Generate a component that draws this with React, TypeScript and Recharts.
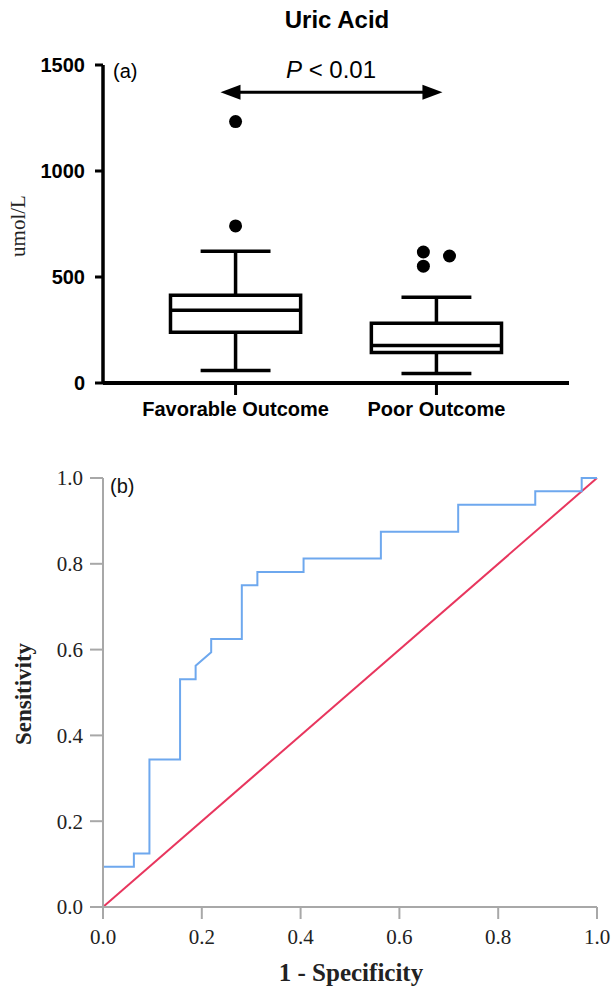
import React from 'react';
import {
  ComposedChart,
  XAxis,
  YAxis,
  ReferenceArea,
  ReferenceLine,
  Scatter,
  Line,
} from 'recharts';

// ---------- Panel (a): box plot data ----------
const groups = ['Favorable Outcome', 'Poor Outcome'];
const groupPos = [1, 2];
const whiskerLow = [59, 45];
const q1 = [239, 144];
const median = [343, 177];
const q3 = [414, 282];
const whiskerHigh = [622, 405];
const outliersFavorable = [1233, 741];
const outliersPoor = [618, 551, 599];
const outlierSidePoor = [-1, -1, 1];
const yTicksA = [0, 500, 1000, 1500];
const pValueText = '< 0.01';
const arrowLevel = 1372;
const arrowFrom = 0.925;
const arrowTo = 2.03;

// ---------- Panel (b): ROC data ----------
const rocFpr = [0, 0, 0.0625, 0.0625, 0.094, 0.094, 0.156, 0.156, 0.1875, 0.1875, 0.219, 0.219, 0.281, 0.281, 0.3125, 0.3125, 0.406, 0.406, 0.5625, 0.5625, 0.719, 0.719, 0.875, 0.875, 0.969, 0.969, 1];
const rocTpr = [0, 0.094, 0.094, 0.125, 0.125, 0.344, 0.344, 0.531, 0.531, 0.5625, 0.594, 0.625, 0.625, 0.75, 0.75, 0.781, 0.781, 0.8125, 0.8125, 0.875, 0.875, 0.9375, 0.9375, 0.969, 0.969, 1, 1];
const diagX = [0, 1];
const diagY = [0, 1];
const rocTicks = [0, 0.2, 0.4, 0.6, 0.8, 1.0];

const SANS = '"Liberation Sans", Arial, sans-serif';
const SERIF = '"Liberation Serif", "Times New Roman", serif';

const BOX_HALF = 0.324;
const CAP_HALF = 0.174;
const JITTER = 0.065;
const SW = 3.5;

const outlierData = [
  ...outliersFavorable.map((v) => ({ x: groupPos[0], y: v })),
  ...outliersPoor.map((v, i) => ({ x: groupPos[1] + outlierSidePoor[i] * JITTER, y: v })),
];

const rocData = rocFpr.map((x, i) => ({ x, y: rocTpr[i] }));
const diagData = diagX.map((x, i) => ({ x, y: diagY[i] }));

const ArrowShape = (p: any) => {
  const { x1, y1, x2, y2 } = p;
  const head = 20;
  const half = 7.5;
  return (
    <g>
      <line x1={x1 + head - 2} y1={y1} x2={x2 - head + 2} y2={y2} stroke="#000" strokeWidth={3} />
      <polygon points={`${x1},${y1} ${x1 + head},${y1 - half} ${x1 + head},${y1 + half}`} fill="#000" />
      <polygon points={`${x2},${y2} ${x2 - head},${y2 - half} ${x2 - head},${y2 + half}`} fill="#000" />
    </g>
  );
};

const GroupTick = (p: any) => {
  const idx = groupPos.indexOf(p.payload.value);
  return (
    <text x={p.x} y={p.y} dy="0.71em" textAnchor="middle" fontFamily={SANS} fontWeight="bold" fontSize={20} fill="#000">
      {groups[idx]}
    </text>
  );
};

const OutlierDot = (p: any) => <circle cx={p.cx} cy={p.cy} r={6.5} fill="#000" />;

export default function App() {
  return (
    <div style={{ position: 'absolute', left: 0, top: 0, width: 612, height: 991, background: '#fff' }}>
      {/* Panel (a) */}
      <div style={{ position: 'absolute', left: 0, top: 0 }}>
        <ComposedChart width={612} height={420} margin={{ top: 65, right: 43, bottom: 0, left: 0 }}>
          <XAxis
            type="number"
            dataKey="x"
            domain={[0.34, 2.66]}
            ticks={groupPos}
            allowDataOverflow
            height={37}
            axisLine={{ stroke: '#000', strokeWidth: 4 }}
            tickLine={{ stroke: '#000', strokeWidth: 3 }}
            tickSize={12}
            tickMargin={7}
            tick={<GroupTick />}
          />
          <YAxis
            type="number"
            dataKey="y"
            domain={[0, 1500]}
            ticks={yTicksA}
            width={103}
            axisLine={{ stroke: '#000', strokeWidth: 3.5 }}
            tickLine={{ stroke: '#000', strokeWidth: 3 }}
            tickSize={8}
            tickMargin={10}
            tick={{ fontFamily: SANS, fontWeight: 'bold', fontSize: 20, fill: '#000' }}
          />
          {groupPos.map((g, i) => (
            <ReferenceArea
              key={`box${i}`}
              x1={g - BOX_HALF}
              x2={g + BOX_HALF}
              y1={q1[i]}
              y2={q3[i]}
              fill="#fff"
              fillOpacity={1}
              stroke="#000"
              strokeWidth={SW}
              ifOverflow="visible"
            />
          ))}
          {groupPos.map((g, i) => (
            <ReferenceLine key={`med${i}`} segment={[{ x: g - BOX_HALF, y: median[i] }, { x: g + BOX_HALF, y: median[i] }]} stroke="#000" strokeWidth={SW} ifOverflow="visible" />
          ))}
          {groupPos.map((g, i) => (
            <ReferenceLine key={`wu${i}`} segment={[{ x: g, y: q3[i] }, { x: g, y: whiskerHigh[i] }]} stroke="#000" strokeWidth={SW} ifOverflow="visible" />
          ))}
          {groupPos.map((g, i) => (
            <ReferenceLine key={`wl${i}`} segment={[{ x: g, y: q1[i] }, { x: g, y: whiskerLow[i] }]} stroke="#000" strokeWidth={SW} ifOverflow="visible" />
          ))}
          {groupPos.map((g, i) => (
            <ReferenceLine key={`cu${i}`} segment={[{ x: g - CAP_HALF, y: whiskerHigh[i] }, { x: g + CAP_HALF, y: whiskerHigh[i] }]} stroke="#000" strokeWidth={SW} ifOverflow="visible" />
          ))}
          {groupPos.map((g, i) => (
            <ReferenceLine key={`cl${i}`} segment={[{ x: g - CAP_HALF, y: whiskerLow[i] }, { x: g + CAP_HALF, y: whiskerLow[i] }]} stroke="#000" strokeWidth={SW} ifOverflow="visible" />
          ))}
          <ReferenceLine
            segment={[{ x: arrowFrom, y: arrowLevel }, { x: arrowTo, y: arrowLevel }]}
            ifOverflow="visible"
            shape={ArrowShape}
          />
          <Scatter data={outlierData} fill="#000" shape={OutlierDot} isAnimationActive={false} />
        </ComposedChart>
      </div>

      {/* Panel (b) */}
      <div style={{ position: 'absolute', left: 0, top: 440 }}>
        <ComposedChart width={612} height={551} margin={{ top: 38, right: 15, bottom: 0, left: 0 }}>
          <XAxis
            type="number"
            dataKey="x"
            domain={[0, 1]}
            ticks={rocTicks}
            height={84}
            axisLine={{ stroke: '#a8a8a8', strokeWidth: 2 }}
            tickLine={{ stroke: '#a8a8a8', strokeWidth: 2 }}
            tickSize={12}
            tickMargin={10}
            tickFormatter={(v: number) => v.toFixed(1)}
            tick={{ fontFamily: SERIF, fontSize: 21, fill: '#222' }}
          />
          <YAxis
            type="number"
            dataKey="y"
            domain={[0, 1]}
            ticks={rocTicks}
            width={103}
            axisLine={{ stroke: '#a8a8a8', strokeWidth: 2 }}
            tickLine={{ stroke: '#a8a8a8', strokeWidth: 2 }}
            tickSize={13}
            tickMargin={7}
            tickFormatter={(v: number) => v.toFixed(1)}
            tick={{ fontFamily: SERIF, fontSize: 21, fill: '#222' }}
          />
          <Line data={diagData} dataKey="y" type="linear" stroke="#e8365e" strokeWidth={2} dot={false} isAnimationActive={false} />
          <Line data={rocData} dataKey="y" type="linear" stroke="#6ea8ee" strokeWidth={2} dot={false} isAnimationActive={false} />
        </ComposedChart>
      </div>

      {/* Text overlay */}
      <svg width={612} height={991} style={{ position: 'absolute', left: 0, top: 0, pointerEvents: 'none' }}>
        <text x={337} y={28} textAnchor="middle" fontFamily={SANS} fontWeight="bold" fontSize={24} fill="#000">Uric Acid</text>
        <text x={113} y={78} fontFamily={SANS} fontSize={20} fill="#000">(a)</text>
        <text x={331} y={78} textAnchor="middle" fontFamily={SANS} fontSize={24} fill="#000">
          <tspan fontStyle="italic">P</tspan>
          <tspan> {pValueText}</tspan>
        </text>
        <text x={25} y={226} textAnchor="middle" fontFamily={SERIF} fontSize={21} fill="#222" transform="rotate(-90 25 226)">umol/L</text>
        <text x={110} y={493} fontFamily={SANS} fontSize={20} fill="#111">(b)</text>
        <text x={31} y={694} textAnchor="middle" fontFamily={SERIF} fontWeight="bold" fontSize={23} fill="#222" transform="rotate(-90 31 694)">Sensitivity</text>
        <text x={351} y={981} textAnchor="middle" fontFamily={SERIF} fontWeight="bold" fontSize={25} fill="#222">1 - Specificity</text>
      </svg>
    </div>
  );
}
